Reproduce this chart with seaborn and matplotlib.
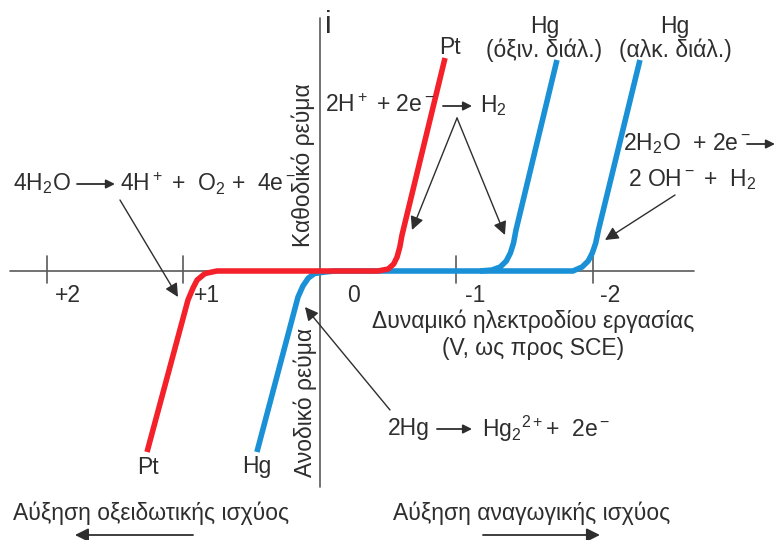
import matplotlib
matplotlib.use("Agg")

import matplotlib.pyplot as plt
import pandas as pd
import seaborn as sns

# potential (V vs SCE) and current (arbitrary units, cathodic > 0)
pt_E = [1.267, 0.967, 0.930, 0.900, 0.842, 0.755, -0.425, -0.500, -0.540, -0.565, -0.585, -0.601, -0.916]
pt_i = [-1.81, -0.29, -0.17, -0.09, -0.025, 0.0, 0.0, 0.02, 0.07, 0.14, 0.24, 0.36, 2.13]

hg_E = [0.462, 0.161, 0.125, 0.085, 0.040, -0.037, -0.110, -1.853, -1.920, -1.965, -1.995, -2.020, -2.040, -2.344]
hg_i = [-1.81, -0.26, -0.15, -0.07, -0.025, -0.01, 0.0, 0.0, 0.04, 0.10, 0.18, 0.28, 0.41, 2.11]

hg_acid_E = [-1.172, -1.260, -1.320, -1.365, -1.395, -1.418, -1.436, -1.736]
hg_acid_i = [0.0, 0.01, 0.04, 0.10, 0.18, 0.28, 0.41, 2.11]

tick_vals = [2, 1, -1, -2]
tick_labels = ["+2", "+1", "0", "-1", "-2"]
tick_label_E = [1.846, 0.828, -0.249, -1.136, -2.125]

# reactions: left side, right side
reactions = [
    (r"4H$_2$O", r"4H$^+$ +  O$_2$ +  4e$^-$"),
    (r"2H$^+$ + 2e$^-$", r"H$_2$"),
    (r"2H$_2$O  + 2e$^-$", ""),
    (r"2Hg", r"Hg$_2$$^{2+}$+  2e$^-$"),
]

RED = "#f4212b"
BLUE = "#1a91d6"
INK = "#2e2e2e"
AXC = "#5a5a5a"

sns.set_theme(style="white")
plt.rcParams["font.family"] = ["Liberation Sans", "DejaVu Sans"]
plt.rcParams["mathtext.fontset"] = "custom"
plt.rcParams["mathtext.rm"] = "Liberation Sans"
plt.rcParams["mathtext.it"] = "Liberation Sans"

fig = plt.figure(figsize=(7.77, 5.40), dpi=100)
ax = fig.add_axes([0, 0, 1, 1])

# axes of the diagram
ax.plot([2.27, -2.74], [0, 0], color=AXC, lw=1.2, zorder=1)
ax.plot([0, 0], [-2.16, 2.53], color=AXC, lw=1.2, zorder=1)
for t in tick_vals:
    ax.plot([t, t], [0.15, -0.12], color=AXC, lw=1.2, zorder=1)

fs = 16.5
txt = dict(fontsize=fs, color=INK)

for lab, x in zip(tick_labels, tick_label_E):
    ax.text(x, -0.25, lab, ha="center", va="center", **txt)

# curves
curves = [
    (hg_E, hg_i, BLUE, 2),
    (hg_acid_E, hg_acid_i, BLUE, 2),
    (pt_E, pt_i, RED, 3),
]
for E, i, c, z in curves:
    df = pd.DataFrame({"E": E, "i": i})
    sns.lineplot(data=df, x="E", y="i", sort=False, estimator=None, color=c,
                 linewidth=4, ax=ax, zorder=z, solid_joinstyle="round",
                 solid_capstyle="butt")
ax.set_xlim(2.344, -3.348)
ax.set_ylim(-2.69, 2.71)
ax.axis("off")

ax.text(-0.059, 2.46, "i", ha="center", va="center", fontsize=22, color=INK)
ax.text(0.125, 1.06, "Καθοδικό ρεύμα", rotation=90, ha="center", va="center", **txt)
ax.text(0.110, -1.31, "Ανοδικό ρεύμα", rotation=90, ha="center", va="center", **txt)

ax.text(-1.560, -0.50, "Δυναμικό ηλεκτροδίου εργασίας", ha="center", va="center", **txt)
ax.text(-1.560, -0.77, "(V, ως προς SCE)", ha="center", va="center", **txt)

# curve labels
ax.text(-0.952, 2.23, "Pt", ha="center", va="center", **txt)
ax.text(-1.648, 2.44, "Hg", ha="center", va="center", **txt)
ax.text(-1.640, 2.21, "(όξιν. διάλ.)", ha="center", va="center", **txt)
ax.text(-2.601, 2.44, "Hg", ha="center", va="center", **txt)
ax.text(-2.601, 2.21, "(αλκ. διάλ.)", ha="center", va="center", **txt)
ax.text(1.260, -1.96, "Pt", ha="center", va="center", **txt)
ax.text(0.462, -1.96, "Hg", ha="center", va="center", **txt)

# reaction equations, with drawn reaction arrows
eq_pos = [
    (2.249, 0.87, 1.780, 1.502, 1.465),
    (-0.037, 1.65, -0.901, -1.114, -1.172),
    (-2.220, 1.27, -3.128, -3.333, None),
    (-0.498, -1.58, -0.857, -1.114, -1.187),
]
for (lhs, rhs), (x0, y, a0, a1, x1) in zip(reactions, eq_pos):
    ax.text(x0, y, lhs, ha="left", va="center", **txt)
    ax.annotate("", xy=(a1, y), xytext=(a0, y),
                arrowprops=dict(arrowstyle="-|>", color=INK, lw=1.3,
                                mutation_scale=13, shrinkA=0, shrinkB=0))
    if x1 is not None:
        ax.text(x1, y, rhs, ha="left", va="center", **txt)
ax.text(-2.256, 0.91, r"2 OH$^-$ +  H$_2$", ha="left", va="center", **txt)

arrows = [
    ((1.465, 0.71), (1.040, -0.26)),
    ((-1.004, 1.53), (-0.674, 0.41)),
    ((-1.004, 1.53), (-1.355, 0.36)),
    ((-2.601, 0.76), (-2.088, 0.31)),
    ((-0.513, -1.39), (0.110, -0.36)),
]
for tail, head in arrows:
    ax.annotate("", xy=head, xytext=tail,
                arrowprops=dict(arrowstyle="-|>", color=INK, lw=1.0,
                                mutation_scale=20, shrinkA=0, shrinkB=0))

ax.text(2.249, -2.42, "Αύξηση οξειδωτικής ισχύος", ha="left", va="center", **txt)
ax.text(-0.535, -2.42, "Αύξηση αναγωγικής ισχύος", ha="left", va="center", **txt)
for tail, head in [((0.930, -2.64), (1.795, -2.64)), ((-1.194, -2.64), (-2.051, -2.64))]:
    ax.annotate("", xy=head, xytext=tail,
                arrowprops=dict(arrowstyle="-|>", color=INK, lw=1.3,
                                mutation_scale=20, shrinkA=0, shrinkB=0))

fig.savefig("out.png", dpi=100)
